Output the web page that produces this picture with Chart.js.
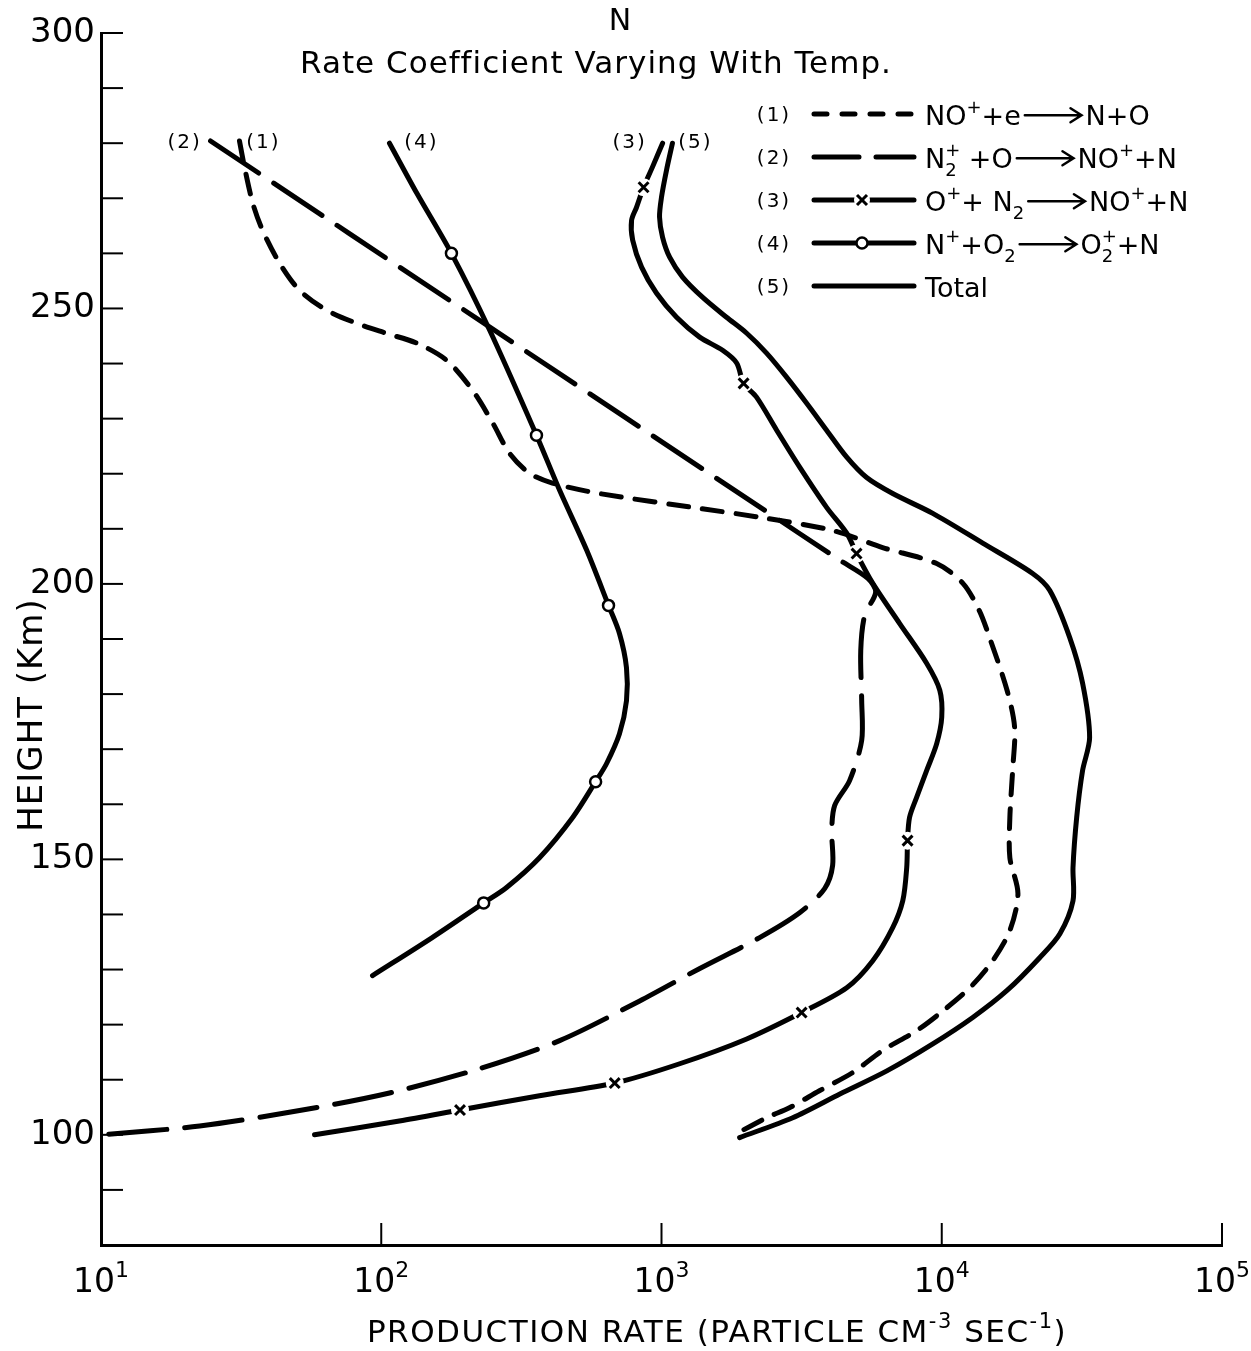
<!DOCTYPE html>
<html>
<head>
<meta charset="utf-8">
<title>N production rate</title>
<script src="https://cdn.jsdelivr.net/npm/chart.js@4.4.1/dist/chart.umd.min.js"></script>
<style>
    html, body { margin: 0; padding: 0; background: #fff; }
    #wrap { width: 1251px; height: 1351px; }
</style>
</head>
<body>
<div id="wrap"><canvas id="rateChart"></canvas></div>
<script>

// ======================================================
// Data (height in km, production rate in particle cm-3 s-1)
// ======================================================

// (1) NO+ + e -> N + O
const dissocHeights = [280.4, 275.7, 269.1, 264.2, 258.2, 253.3, 249.7, 247.3, 245.5, 243.7, 240.6, 235.1, 229.2, 223.7, 220.1, 218.3, 216.4, 213.7, 212.1, 209.7, 206.6, 203.7, 200.1, 195.2, 190.3, 180.7, 173.9, 166.1, 157.6, 150.3, 143.8, 137.1, 131.6, 126.7, 122.5, 118.9, 115.3, 111.3, 108.0, 104.9, 103.1, 99.8];
const dissocRates = [31.2, 32.5, 34.8, 37.7, 43.4, 51.1, 63.8, 81.7, 104, 134, 171, 212, 250, 287, 338, 408, 601, 1370, 2240, 4080, 6150, 9590, 11900, 13600, 14800, 17100, 18200, 17900, 17500, 17500, 18700, 17500, 15200, 12600, 10100, 8130, 6150, 4810, 3660, 2860, 2370, 1790];

// (2) N2+ + O -> NO+ + N
const n2ionHeights = [280.4, 246.6, 214.3, 204.3, 201.0, 198.5, 194.3, 187.9, 178.8, 171.6, 164.3, 159.8, 155.2, 148.9, 144.7, 140.3, 135.8, 130.2, 124.3, 117.1, 112.0, 107.6, 104.4, 101.6, 100];
const n2ionRates = [24.6, 244, 2190, 4330, 5450, 5810, 5310, 5140, 5180, 5180, 4690, 4150, 4050, 4080, 3820, 3110, 2240, 1370, 836, 433, 224, 107, 51.1, 22.5, 10];

// (3) O+ + N2 -> NO+ + N
const oxyHeights = [280.0, 275.7, 272.0, 268.4, 266.0, 262.4, 257.5, 252.8, 248.4, 244.8, 242.4, 240.1, 236.4, 233.9, 227.9, 221.2, 213.9, 209.2, 205.5, 200.1, 192.8, 185.6, 180.7, 175.8, 171.0, 166.1, 161.2, 157.6, 153.4, 148.5, 142.5, 137.6, 131.6, 126.7, 122.2, 117.4, 112.9, 109.4, 107.1, 104.5, 102.5, 100.0];
const oxyRates = [1009, 929, 863, 815, 782, 789, 849, 959, 1132, 1368, 1652, 1854, 1963, 2183, 2576, 3112, 3882, 4581, 4966, 5675, 7079, 8831, 9840, 10000, 9594, 8831, 8128, 7674, 7551, 7499, 7261, 6683, 5675, 4581, 3162, 2014, 1161, 681, 367, 191, 116, 57.8];
const oxyMarkHeights = [272.0, 236.4, 205.5, 153.4, 122.2, 109.4, 104.5];
const oxyMarkRates = [863, 1963, 4966, 7551, 3162, 681, 191];

// (4) N+ + O2 -> O2+ + N
const nitroHeights = [280.0, 270.9, 260.0, 246.0, 227.0, 217.0, 206.1, 196.1, 191.0, 184.8, 178.8, 172.8, 167.4, 164.1, 157.6, 150.3, 144.9, 142.1, 135.8, 128.9];
const nitroRates = [107, 134, 178, 244, 358, 433, 541, 647, 708, 750, 750, 708, 637, 582, 482, 367, 280, 232, 152, 93.1];
const nitroMarkHeights = [260.0, 227.0, 196.1, 164.1, 142.1];
const nitroMarkRates = [178, 358, 647, 582, 232];

// (5) Total
const totalHeights = [280.0, 275.1, 270.2, 266.6, 262.9, 259.3, 255.7, 252.0, 248.4, 245.5, 241.9, 237.5, 232.8, 227.9, 223.0, 219.3, 216.4, 212.8, 207.4, 201.9, 198.8, 190.3, 182.0, 172.1, 166.1, 157.6, 148.5, 142.5, 136.5, 132.2, 126.2, 121.3, 116.5, 111.6, 107.4, 103.1, 99.5];
const totalRates = [1094, 1042, 1000, 984, 1009, 1069, 1189, 1403, 1706, 2014, 2371, 2799, 3296, 3882, 4581, 5395, 6683, 9290, 14000, 21100, 24300, 28600, 31800, 33700, 31800, 30300, 29400, 29400, 26400, 22400, 17100, 12900, 9290, 6370, 4330, 2940, 1900];

// Axis ticks and labels
const rateTicks = [10, 100, 1000, 10000, 100000];
const rateTickLabels = ["10^1", "10^2", "10^3", "10^4", "10^5"];
const heightLabels = [100, 150, 200, 250, 300];

// Legend / curve labels
const curveKeys = ["(1)", "(2)", "(3)", "(4)", "(5)"];
const legendTexts = ["NO^++e>N+O", "N_2^+ +O>NO^++N", "O^++ N_2>NO^++N", "N^++O_2>O_2^++N", "Total"];


// ======================================================
// Helpers
// ======================================================

const FONT = "'DejaVu Sans', sans-serif";

function pairUp(rates, heights) {
    return rates.map((v, i) => ({ x: v, y: heights[i] }));
}

// tiny rich text: ^x superscript, _x subscript, _x^y stacked, > arrow, {..} groups
function parseRich(str) {
    const parts = [];
    let i = 0;
    const arg = () => {
        if (str[i] === "{") {
            const j = str.indexOf("}", i);
            const s = str.slice(i + 1, j);
            i = j + 1;
            return s;
        }
        return str[i++];
    };
    while (i < str.length) {
        const c = str[i++];
        if (c === "^") {
            parts.push({ kind: "sup", s: arg() });
        } else if (c === "_") {
            const sub = arg();
            if (str[i] === "^") {
                i++;
                parts.push({ kind: "stack", s: sub, sup: arg() });
            } else {
                parts.push({ kind: "sub", s: sub });
            }
        } else if (c === ">") {
            parts.push({ kind: "arrow" });
        } else {
            const last = parts[parts.length - 1];
            if (last && last.kind === "text") last.s += c;
            else parts.push({ kind: "text", s: c });
        }
    }
    return parts;
}

function partWidth(ctx, p, size) {
    if (p.kind === "arrow") return size * 2.4;
    if (p.kind === "text") {
        ctx.font = size + "px " + FONT;
        return ctx.measureText(p.s).width;
    }
    ctx.font = Math.round(size * 0.68) + "px " + FONT;
    const w = ctx.measureText(p.s).width;
    if (p.kind === "stack") return Math.max(w, ctx.measureText(p.sup).width);
    return w;
}

function drawRich(ctx, str, x, y, size, align, spacing) {
    ctx.save();
    if ("letterSpacing" in ctx) ctx.letterSpacing = (spacing || 0) + "px";
    const parts = parseRich(str);
    let total = 0;
    parts.forEach(p => { total += partWidth(ctx, p, size); });
    let cx = align === "center" ? x - total / 2 : (align === "right" ? x - total : x);
    ctx.textAlign = "left";
    ctx.textBaseline = "alphabetic";
    parts.forEach(p => {
        const w = partWidth(ctx, p, size);
        if (p.kind === "arrow") {
            const ay = y - size * 0.36;
            const x0 = cx + size * 0.15;
            const x1 = cx + w - size * 0.15;
            ctx.lineWidth = 2.5;
            ctx.lineCap = "round";
            ctx.setLineDash([]);
            ctx.beginPath();
            ctx.moveTo(x0, ay);
            ctx.lineTo(x1, ay);
            ctx.moveTo(x1 - 11, ay - 7);
            ctx.lineTo(x1, ay);
            ctx.lineTo(x1 - 11, ay + 7);
            ctx.stroke();
        } else if (p.kind === "text") {
            ctx.fillText(p.s, cx, y);
        } else if (p.kind === "sup") {
            ctx.fillText(p.s, cx, y - size * 0.45);
        } else if (p.kind === "sub") {
            ctx.fillText(p.s, cx, y + size * 0.28);
        } else {
            ctx.fillText(p.sup, cx, y - size * 0.45);
            ctx.fillText(p.s, cx, y + size * 0.28);
        }
        cx += w;
    });
    ctx.restore();
}

function strokeLine(ctx, x0, y0, x1, y1) {
    ctx.beginPath();
    ctx.moveTo(x0, y0);
    ctx.lineTo(x1, y1);
    ctx.stroke();
}

function drawMarker(ctx, type, x, y) {
    ctx.save();
    ctx.setLineDash([]);
    if (type === "cross") {
        ctx.fillStyle = "#fff";
        ctx.beginPath();
        ctx.arc(x, y, 8, 0, Math.PI * 2);
        ctx.fill();
        ctx.lineWidth = 3;
        ctx.lineCap = "butt";
        strokeLine(ctx, x - 5, y - 5, x + 5, y + 5);
        strokeLine(ctx, x - 5, y + 5, x + 5, y - 5);
    } else if (type === "circle") {
        ctx.fillStyle = "#fff";
        ctx.lineWidth = 2.5;
        ctx.beginPath();
        ctx.arc(x, y, 5.5, 0, Math.PI * 2);
        ctx.fill();
        ctx.stroke();
    }
    ctx.restore();
}


// ======================================================
// Decorations: titles, inward ticks, legend, curve labels
// ======================================================

const decorPlugin = {
    id: "decor",
    afterDraw(chart) {
        const ctx = chart.ctx;
        const xs = chart.scales.x;
        const ys = chart.scales.y;
        const area = chart.chartArea;

        ctx.save();
        ctx.fillStyle = "#000";
        ctx.strokeStyle = "#000";

        // inward tick marks
        ctx.lineWidth = 2;
        ys.ticks.forEach(t => {
            if (t.value <= ys.min) return;
            const py = ys.getPixelForValue(t.value);
            strokeLine(ctx, area.left, py, area.left + 22, py);
        });

        rateTicks.forEach((v, i) => {
            const px = xs.getPixelForValue(v);
            if (i > 0) strokeLine(ctx, px, area.bottom, px, area.bottom - 22);
            drawRich(ctx, rateTickLabels[i], px, area.bottom + 47, 33, "center");
        });

        // titles
        drawRich(ctx, "N", 620, 30, 30, "center");
        drawRich(ctx, "Rate Coefficient Varying With Temp.", 596, 73, 31, "center", 1);
        drawRich(ctx, "PRODUCTION RATE (PARTICLE CM^{-3} SEC^{-1})", 717, 1342, 31, "center", 1.5);

        ctx.save();
        ctx.translate(42, 715);
        ctx.rotate(-Math.PI / 2);
        drawRich(ctx, "HEIGHT (Km)", 0, 0, 34, "center", 1);
        ctx.restore();

        // legend
        const rowY = [114, 157, 200, 243, 286];
        const markTypes = [null, null, "cross", "circle", null];
        curveKeys.forEach((key, i) => {
            const ds = chart.data.datasets[i];
            const y = rowY[i];
            drawRich(ctx, key, 774, y + 7, 20, "center", 2);
            ctx.save();
            ctx.lineWidth = 5;
            ctx.lineCap = "round";
            ctx.setLineDash(ds.legendDash || []);
            strokeLine(ctx, 814, y, 914, y);
            ctx.restore();
            if (markTypes[i]) drawMarker(ctx, markTypes[i], 862, y);
            drawRich(ctx, legendTexts[i], 925, y + 11, 27, "left");
        });

        // curve labels next to the top end of each curve
        const labelShift = [24, -26, -33, 32, 23];
        curveKeys.forEach((key, i) => {
            const first = chart.data.datasets[i].data[0];
            const px = xs.getPixelForValue(first.x) + labelShift[i];
            drawRich(ctx, key, px, 148, 20, "center", 2);
        });

        ctx.restore();
    }
};


// ======================================================
// Chart
// ======================================================

Chart.defaults.font.family = FONT;
Chart.defaults.color = "#000";

const lineBase = {
    showLine: true,
    borderColor: "#000",
    borderWidth: 5,
    borderCapStyle: "round",
    borderJoinStyle: "round",
    pointRadius: 0,
    tension: 0.3,
    fill: false,
    order: 2
};

const ctx = document.getElementById("rateChart").getContext("2d");

new Chart(ctx, {
    type: "scatter",
    data: {
        datasets: [
            Object.assign({}, lineBase, {
                label: "NO+ + e",
                data: pairUp(dissocRates, dissocHeights),
                borderDash: [20, 14],
                legendDash: [13, 15]
            }),
            Object.assign({}, lineBase, {
                label: "N2+ + O",
                data: pairUp(n2ionRates, n2ionHeights),
                borderDash: [58, 18],
                legendDash: [45, 17]
            }),
            Object.assign({}, lineBase, {
                label: "O+ + N2",
                data: pairUp(oxyRates, oxyHeights)
            }),
            Object.assign({}, lineBase, {
                label: "N+ + O2",
                data: pairUp(nitroRates, nitroHeights)
            }),
            Object.assign({}, lineBase, {
                label: "Total",
                data: pairUp(totalRates, totalHeights)
            }),
            {
                label: "O+ marks",
                data: pairUp(oxyMarkRates, oxyMarkHeights),
                showLine: false,
                pointStyle: "crossRot",
                pointRadius: 7,
                pointBorderWidth: 3,
                pointBorderColor: "#000",
                order: 0
            },
            {
                label: "O+ gaps",
                data: pairUp(oxyMarkRates, oxyMarkHeights),
                showLine: false,
                pointStyle: "circle",
                pointRadius: 9,
                pointBorderWidth: 0,
                pointBackgroundColor: "#fff",
                order: 1
            },
            {
                label: "N+ marks",
                data: pairUp(nitroMarkRates, nitroMarkHeights),
                showLine: false,
                pointStyle: "circle",
                pointRadius: 5.5,
                pointBorderWidth: 2.5,
                pointBorderColor: "#000",
                pointBackgroundColor: "#fff",
                order: 0
            }
        ]
    },
    options: {
        responsive: true,
        maintainAspectRatio: false,
        animation: false,
        events: [],
        layout: {
            padding: { top: 33, right: 29, left: 0, bottom: 0 }
        },
        plugins: {
            legend: { display: false },
            tooltip: { enabled: false },
            title: { display: false }
        },
        scales: {
            x: {
                type: "logarithmic",
                min: 10,
                max: 100000,
                grid: { display: false, drawTicks: false },
                border: { display: true, color: "#000", width: 3 },
                ticks: { display: false },
                afterFit(scale) { scale.height = 106; }
            },
            y: {
                type: "linear",
                min: 80,
                max: 300,
                grid: { display: false, drawTicks: false },
                border: { display: true, color: "#000", width: 3 },
                ticks: {
                    stepSize: 10,
                    autoSkip: false,
                    padding: 6,
                    color: "#000",
                    font: { size: 34 },
                    callback: v => heightLabels.includes(v) ? String(v) : ""
                },
                afterFit(scale) { scale.width = 101; }
            }
        }
    },
    plugins: [decorPlugin]
});

</script>
</body>
</html>
